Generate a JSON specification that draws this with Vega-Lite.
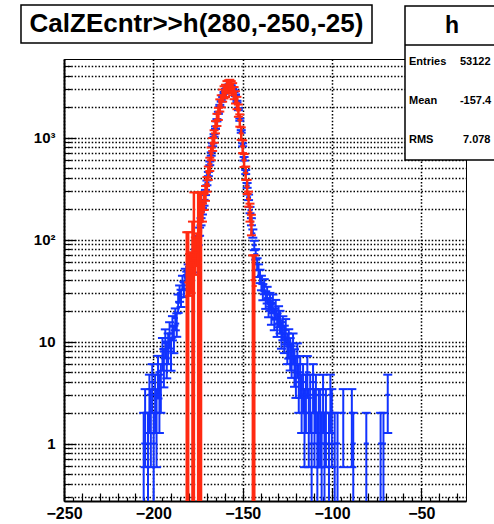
{
  "$schema": "https://vega.github.io/schema/vega-lite/v6.json",
  "width": 402,
  "height": 442,
  "autosize": {"type": "none"},
  "padding": {"left": 64, "top": 59, "right": 28, "bottom": 23},
  "background": "white",
  "config": {
    "view": {"stroke": "#000", "strokeWidth": 1},
    "axis": {"labelFont": "Liberation Sans", "labelFontWeight": "bold", "labelColor": "#000", "tickColor": "#000", "domainColor": "#000", "title": null}
  },
  "datasets": {
    "blue": [
      {"x": -205.4, "v": 1, "lo": 0.01, "hi": 2},
      {"x": -204.6, "v": 2, "lo": 0.586, "hi": 3.414},
      {"x": -203.0, "v": 1, "lo": 0.01, "hi": 2},
      {"x": -202.2, "v": 3, "lo": 1.268, "hi": 4.732},
      {"x": -201.4, "v": 2, "lo": 0.586, "hi": 3.414},
      {"x": -200.6, "v": 4, "lo": 2, "hi": 6},
      {"x": -199.8, "v": 1, "lo": 0.01, "hi": 2},
      {"x": -199.0, "v": 3, "lo": 1.268, "hi": 4.732},
      {"x": -198.2, "v": 2, "lo": 0.586, "hi": 3.414},
      {"x": -197.4, "v": 5, "lo": 2.764, "hi": 7.236},
      {"x": -196.6, "v": 3, "lo": 1.268, "hi": 4.732},
      {"x": -195.8, "v": 4, "lo": 2, "hi": 6},
      {"x": -194.9, "v": 8, "lo": 5.172, "hi": 10.828},
      {"x": -194.1, "v": 6, "lo": 3.551, "hi": 8.449},
      {"x": -193.3, "v": 10, "lo": 6.838, "hi": 13.162},
      {"x": -192.5, "v": 7, "lo": 4.354, "hi": 9.646},
      {"x": -191.7, "v": 9, "lo": 6, "hi": 12},
      {"x": -190.9, "v": 12, "lo": 8.536, "hi": 15.464},
      {"x": -190.1, "v": 8, "lo": 5.172, "hi": 10.828},
      {"x": -189.3, "v": 14, "lo": 10.258, "hi": 17.742},
      {"x": -188.5, "v": 11, "lo": 7.683, "hi": 14.317},
      {"x": -187.7, "v": 17, "lo": 12.877, "hi": 21.123},
      {"x": -186.9, "v": 15, "lo": 11.127, "hi": 18.873},
      {"x": -186.1, "v": 24, "lo": 19.101, "hi": 28.899},
      {"x": -185.3, "v": 30, "lo": 24.523, "hi": 35.477},
      {"x": -184.5, "v": 27, "lo": 21.804, "hi": 32.196},
      {"x": -183.7, "v": 38, "lo": 31.836, "hi": 44.164},
      {"x": -182.9, "v": 33, "lo": 27.255, "hi": 38.745},
      {"x": -182.1, "v": 45, "lo": 38.292, "hi": 51.708},
      {"x": -181.3, "v": 42, "lo": 35.519, "hi": 48.481},
      {"x": -180.5, "v": 50, "lo": 42.929, "hi": 57.071},
      {"x": -179.7, "v": 47, "lo": 40.144, "hi": 53.856},
      {"x": -178.9, "v": 58, "lo": 50.384, "hi": 65.616},
      {"x": -178.1, "v": 55, "lo": 47.584, "hi": 62.416},
      {"x": -177.3, "v": 66, "lo": 57.876, "hi": 74.124},
      {"x": -176.5, "v": 72, "lo": 63.515, "hi": 80.485},
      {"x": -175.7, "v": 80, "lo": 71.056, "hi": 88.944},
      {"x": -174.9, "v": 98, "lo": 88.1, "hi": 107.9},
      {"x": -174.1, "v": 120, "lo": 109.0, "hi": 131.0},
      {"x": -173.3, "v": 150, "lo": 137.8, "hi": 162.2},
      {"x": -172.5, "v": 190, "lo": 176.2, "hi": 203.8},
      {"x": -171.6, "v": 230, "lo": 214.8, "hi": 245.2},
      {"x": -170.8, "v": 290, "lo": 273.0, "hi": 307.0},
      {"x": -170.0, "v": 360, "lo": 341.0, "hi": 379.0},
      {"x": -169.2, "v": 440, "lo": 419.0, "hi": 461.0},
      {"x": -168.4, "v": 560, "lo": 536.3, "hi": 583.7},
      {"x": -167.6, "v": 690, "lo": 663.7, "hi": 716.3},
      {"x": -166.8, "v": 850, "lo": 820.8, "hi": 879.2},
      {"x": -166.0, "v": 1050, "lo": 1017.6, "hi": 1082.4},
      {"x": -165.2, "v": 1250, "lo": 1214.6, "hi": 1285.4},
      {"x": -164.4, "v": 1480, "lo": 1441.5, "hi": 1518.5},
      {"x": -163.6, "v": 1750, "lo": 1708.2, "hi": 1791.8},
      {"x": -162.8, "v": 2050, "lo": 2004.7, "hi": 2095.3},
      {"x": -162.0, "v": 2300, "lo": 2252.0, "hi": 2348.0},
      {"x": -161.2, "v": 2550, "lo": 2499.5, "hi": 2600.5},
      {"x": -160.4, "v": 2750, "lo": 2697.6, "hi": 2802.4},
      {"x": -159.6, "v": 2950, "lo": 2895.7, "hi": 3004.3},
      {"x": -158.8, "v": 3100, "lo": 3044.3, "hi": 3155.7},
      {"x": -158.0, "v": 3250, "lo": 3193.0, "hi": 3307.0},
      {"x": -157.2, "v": 3300, "lo": 3242.6, "hi": 3357.4},
      {"x": -156.4, "v": 3200, "lo": 3143.4, "hi": 3256.6},
      {"x": -155.6, "v": 3050, "lo": 2994.8, "hi": 3105.2},
      {"x": -154.8, "v": 2850, "lo": 2796.6, "hi": 2903.4},
      {"x": -154.0, "v": 2600, "lo": 2549.0, "hi": 2651.0},
      {"x": -153.2, "v": 2250, "lo": 2202.6, "hi": 2297.4},
      {"x": -152.4, "v": 1900, "lo": 1856.4, "hi": 1943.6},
      {"x": -151.6, "v": 1500, "lo": 1461.3, "hi": 1538.7},
      {"x": -150.8, "v": 1150, "lo": 1116.1, "hi": 1183.9},
      {"x": -150.0, "v": 850, "lo": 820.8, "hi": 879.2},
      {"x": -149.2, "v": 620, "lo": 595.1, "hi": 644.9},
      {"x": -148.3, "v": 460, "lo": 438.6, "hi": 481.4},
      {"x": -147.5, "v": 340, "lo": 321.6, "hi": 358.4},
      {"x": -146.7, "v": 260, "lo": 243.9, "hi": 276.1},
      {"x": -145.9, "v": 195, "lo": 181.0, "hi": 209.0},
      {"x": -145.1, "v": 150, "lo": 137.8, "hi": 162.2},
      {"x": -144.3, "v": 115, "lo": 104.3, "hi": 125.7},
      {"x": -143.5, "v": 88, "lo": 78.6, "hi": 97.4},
      {"x": -142.7, "v": 72, "lo": 63.5, "hi": 80.5},
      {"x": -141.9, "v": 58, "lo": 50.4, "hi": 65.6},
      {"x": -141.1, "v": 50, "lo": 42.9, "hi": 57.1},
      {"x": -140.3, "v": 44, "lo": 37.4, "hi": 50.6},
      {"x": -139.5, "v": 38, "lo": 31.8, "hi": 44.2},
      {"x": -138.7, "v": 31, "lo": 25.4, "hi": 36.6},
      {"x": -137.9, "v": 35, "lo": 29.1, "hi": 40.9},
      {"x": -137.1, "v": 26, "lo": 20.9, "hi": 31.1},
      {"x": -136.3, "v": 29, "lo": 23.6, "hi": 34.4},
      {"x": -135.5, "v": 22, "lo": 17.3, "hi": 26.7},
      {"x": -134.7, "v": 25, "lo": 20, "hi": 30},
      {"x": -133.9, "v": 19, "lo": 14.6, "hi": 23.4},
      {"x": -133.1, "v": 24, "lo": 19.1, "hi": 28.9},
      {"x": -132.3, "v": 17, "lo": 12.9, "hi": 21.1},
      {"x": -131.5, "v": 21, "lo": 16.4, "hi": 25.6},
      {"x": -130.7, "v": 15, "lo": 11.1, "hi": 18.9},
      {"x": -129.9, "v": 18, "lo": 13.8, "hi": 22.2},
      {"x": -129.1, "v": 16, "lo": 12, "hi": 20},
      {"x": -128.3, "v": 12, "lo": 8.5, "hi": 15.5},
      {"x": -127.5, "v": 14, "lo": 10.3, "hi": 17.7},
      {"x": -126.7, "v": 11, "lo": 7.7, "hi": 14.3},
      {"x": -125.9, "v": 13, "lo": 9.4, "hi": 16.6},
      {"x": -125.0, "v": 9, "lo": 6, "hi": 12},
      {"x": -124.2, "v": 10, "lo": 6.8, "hi": 13.2},
      {"x": -123.4, "v": 8, "lo": 5.2, "hi": 10.8},
      {"x": -122.6, "v": 7, "lo": 4.4, "hi": 9.6},
      {"x": -121.8, "v": 9, "lo": 6, "hi": 12},
      {"x": -121.0, "v": 6, "lo": 3.6, "hi": 8.4},
      {"x": -120.2, "v": 5, "lo": 2.8, "hi": 7.2},
      {"x": -119.4, "v": 7, "lo": 4.4, "hi": 9.6},
      {"x": -118.6, "v": 4, "lo": 2, "hi": 6},
      {"x": -117.8, "v": 5, "lo": 2.8, "hi": 7.2},
      {"x": -117.0, "v": 3, "lo": 1.268, "hi": 4.732},
      {"x": -116.2, "v": 4, "lo": 2, "hi": 6},
      {"x": -115.4, "v": 2, "lo": 0.586, "hi": 3.414},
      {"x": -114.6, "v": 3, "lo": 1.268, "hi": 4.732},
      {"x": -113.8, "v": 5, "lo": 2.8, "hi": 7.2},
      {"x": -113.0, "v": 2, "lo": 0.586, "hi": 3.414},
      {"x": -112.2, "v": 3, "lo": 1.268, "hi": 4.732},
      {"x": -111.4, "v": 1, "lo": 0.01, "hi": 2},
      {"x": -110.6, "v": 4, "lo": 2, "hi": 6},
      {"x": -109.8, "v": 2, "lo": 0.586, "hi": 3.414},
      {"x": -109.0, "v": 3, "lo": 1.268, "hi": 4.732},
      {"x": -108.2, "v": 1, "lo": 0.01, "hi": 2},
      {"x": -107.4, "v": 2, "lo": 0.586, "hi": 3.414},
      {"x": -106.6, "v": 2, "lo": 0.586, "hi": 3.414},
      {"x": -105.8, "v": 1, "lo": 0.01, "hi": 2},
      {"x": -105.0, "v": 3, "lo": 1.268, "hi": 4.732},
      {"x": -104.2, "v": 1, "lo": 0.01, "hi": 2},
      {"x": -103.4, "v": 2, "lo": 0.586, "hi": 3.414},
      {"x": -101.7, "v": 1, "lo": 0.01, "hi": 2},
      {"x": -100.9, "v": 3, "lo": 1.268, "hi": 4.732},
      {"x": -100.1, "v": 2, "lo": 0.586, "hi": 3.414},
      {"x": -98.5, "v": 1, "lo": 0.01, "hi": 2},
      {"x": -96.9, "v": 1, "lo": 0.01, "hi": 2},
      {"x": -93.7, "v": 2, "lo": 0.586, "hi": 3.414},
      {"x": -88.9, "v": 2, "lo": 0.586, "hi": 3.414},
      {"x": -88.1, "v": 1, "lo": 0.01, "hi": 2},
      {"x": -80.8, "v": 1, "lo": 0.01, "hi": 2},
      {"x": -72.8, "v": 1, "lo": 0.01, "hi": 2},
      {"x": -71.2, "v": 1, "lo": 0.01, "hi": 2},
      {"x": -68.8, "v": 3, "lo": 1.268, "hi": 4.732}
    ],
    "red": [
      {"x": -181.3, "v": 38, "lo": 0.01, "hi": 118},
      {"x": -180.5, "v": 45, "lo": 0.01, "hi": 118},
      {"x": -179.7, "v": 50, "lo": 28, "hi": 72},
      {"x": -178.9, "v": 52, "lo": 30, "hi": 75},
      {"x": -178.1, "v": 60, "lo": 0.01, "hi": 150},
      {"x": -177.3, "v": 65, "lo": 0.01, "hi": 290},
      {"x": -176.5, "v": 75, "lo": 45, "hi": 105},
      {"x": -175.7, "v": 85, "lo": 55, "hi": 115},
      {"x": -174.9, "v": 100, "lo": 0.01, "hi": 290},
      {"x": -174.1, "v": 125, "lo": 0.01, "hi": 290},
      {"x": -173.3, "v": 150, "lo": 0.01, "hi": 290},
      {"x": -172.5, "v": 185, "lo": 150, "hi": 225},
      {"x": -171.6, "v": 235, "lo": 195, "hi": 280},
      {"x": -170.8, "v": 285, "lo": 240, "hi": 335},
      {"x": -170.0, "v": 350, "lo": 295, "hi": 410},
      {"x": -169.2, "v": 450, "lo": 385, "hi": 520},
      {"x": -168.4, "v": 550, "lo": 470, "hi": 635},
      {"x": -167.6, "v": 700, "lo": 600, "hi": 800},
      {"x": -166.8, "v": 860, "lo": 740, "hi": 990},
      {"x": -166.0, "v": 1030, "lo": 890, "hi": 1180},
      {"x": -165.2, "v": 1270, "lo": 1100, "hi": 1450},
      {"x": -164.4, "v": 1500, "lo": 1300, "hi": 1710},
      {"x": -163.6, "v": 1720, "lo": 1490, "hi": 1960},
      {"x": -162.8, "v": 2080, "lo": 1800, "hi": 2370},
      {"x": -162.0, "v": 2280, "lo": 1980, "hi": 2600},
      {"x": -161.2, "v": 2600, "lo": 2250, "hi": 2960},
      {"x": -160.4, "v": 2800, "lo": 2420, "hi": 3190},
      {"x": -159.6, "v": 2900, "lo": 2500, "hi": 3300},
      {"x": -158.8, "v": 3150, "lo": 2730, "hi": 3580},
      {"x": -158.0, "v": 3200, "lo": 2770, "hi": 3640},
      {"x": -157.2, "v": 3250, "lo": 2820, "hi": 3690},
      {"x": -156.4, "v": 3150, "lo": 2720, "hi": 3580},
      {"x": -155.6, "v": 3000, "lo": 2600, "hi": 3420},
      {"x": -154.8, "v": 2750, "lo": 2380, "hi": 3130},
      {"x": -154.0, "v": 2500, "lo": 2160, "hi": 2850},
      {"x": -153.2, "v": 2200, "lo": 1900, "hi": 2510},
      {"x": -152.4, "v": 1850, "lo": 1600, "hi": 2110},
      {"x": -151.6, "v": 1480, "lo": 1280, "hi": 1690},
      {"x": -150.8, "v": 1100, "lo": 950, "hi": 1260},
      {"x": -150.0, "v": 820, "lo": 705, "hi": 940},
      {"x": -149.2, "v": 600, "lo": 515, "hi": 690},
      {"x": -148.3, "v": 450, "lo": 385, "hi": 520},
      {"x": -147.5, "v": 330, "lo": 280, "hi": 385},
      {"x": -146.7, "v": 250, "lo": 210, "hi": 295},
      {"x": -145.9, "v": 185, "lo": 150, "hi": 225},
      {"x": -145.1, "v": 140, "lo": 110, "hi": 175},
      {"x": -144.3, "v": 40, "lo": 0.01, "hi": 70},
      {"x": -143.5, "v": 35, "lo": 0.01, "hi": 70}
    ]
  },
  "resolve": {"axis": {"x": "independent", "y": "independent"}},
  "layer": [
    {
      "data": {"name": "blue"},
      "mark": {"type": "rule", "color": "#1133ff", "strokeWidth": 2, "clip": true},
      "encoding": {
        "x": {"field": "x", "type": "quantitative", "scale": {"domain": [-250, -25], "nice": false, "zero": false},
          "axis": {"orient": "bottom", "values": [-250, -200, -150, -100, -50], "format": "d", "labelFontSize": 16, "labelPadding": 17, "labelFlush": false, "labelOverlap": false, "tickSize": -13, "tickWidth": 1.2, "domain": true, "domainWidth": 2, "grid": true, "gridColor": "#000", "gridDash": [1.5, 1.9], "gridWidth": 1.5, "gridOpacity": 1}},
        "y": {"field": "lo", "type": "quantitative", "scale": {"type": "log", "domain": [0.273, 5900], "nice": false},
          "axis": {"orient": "left", "values": [1, 10, 100, 1000], "labelExpr": "datum.value == 1 ? '1' : datum.value == 10 ? '10' : datum.value == 100 ? '10²' : '10³'", "labelFontSize": 15, "labelPadding": 21, "tickSize": -12, "tickWidth": 1.2, "domain": true, "domainWidth": 2, "grid": false}},
        "y2": {"field": "hi"}
      }
    },
    {
      "data": {"name": "blue"},
      "mark": {"type": "tick", "orient": "horizontal", "color": "#1133ff", "size": 9, "thickness": 2, "opacity": 1, "clip": true},
      "encoding": {
        "x": {"field": "x", "type": "quantitative",
          "axis": {"orient": "bottom", "values": [-240, -230, -220, -210, -190, -180, -170, -160, -140, -130, -120, -110, -90, -80, -70, -60, -40, -30], "labels": false, "tickSize": -8, "tickWidth": 1.2, "domain": false, "grid": false}},
        "y": {"field": "lo", "type": "quantitative",
          "axis": {"orient": "left", "values": [0.3, 0.4, 0.5, 0.6, 0.7, 0.8, 0.9, 1, 2, 3, 4, 5, 6, 7, 8, 9, 10, 20, 30, 40, 50, 60, 70, 80, 90, 100, 200, 300, 400, 500, 600, 700, 800, 900, 1000, 2000, 3000, 4000, 5000], "labels": false, "tickSize": -7, "tickWidth": 1.2, "domain": false, "grid": true, "gridColor": "#000", "gridDash": [1.5, 1.9], "gridWidth": 1.5, "gridOpacity": 1}}
      }
    },
    {
      "data": {"name": "blue"},
      "mark": {"type": "tick", "orient": "horizontal", "color": "#1133ff", "size": 9, "thickness": 2, "opacity": 1, "clip": true},
      "encoding": {
        "x": {"field": "x", "type": "quantitative",
          "axis": {"orient": "bottom", "values": [-245, -235, -225, -215, -205, -195, -185, -175, -165, -155, -145, -135, -125, -115, -105, -95, -85, -75, -65, -55, -45, -35], "labels": false, "tickSize": -4, "tickWidth": 1.2, "domain": false, "grid": false}},
        "y": {"field": "hi", "type": "quantitative", "axis": null}
      }
    },
    {
      "data": {"name": "blue"},
      "mark": {"type": "tick", "orient": "horizontal", "color": "#1133ff", "size": 5, "thickness": 2, "opacity": 1, "clip": true},
      "encoding": {
        "x": {"field": "x", "type": "quantitative", "axis": null},
        "y": {"field": "v", "type": "quantitative", "axis": null}
      }
    },
    {
      "data": {"name": "red"},
      "mark": {"type": "rule", "color": "#ff2a12", "strokeWidth": 2.5, "clip": true},
      "encoding": {
        "x": {"field": "x", "type": "quantitative", "axis": null},
        "y": {"field": "lo", "type": "quantitative", "axis": null},
        "y2": {"field": "hi"}
      }
    },
    {
      "data": {"name": "red"},
      "mark": {"type": "tick", "orient": "horizontal", "color": "#ff2a12", "size": 9, "thickness": 2, "opacity": 1, "clip": true},
      "encoding": {
        "x": {"field": "x", "type": "quantitative", "axis": null},
        "y": {"field": "lo", "type": "quantitative", "axis": null}
      }
    },
    {
      "data": {"name": "red"},
      "mark": {"type": "tick", "orient": "horizontal", "color": "#ff2a12", "size": 9, "thickness": 2, "opacity": 1, "clip": true},
      "encoding": {
        "x": {"field": "x", "type": "quantitative", "axis": null},
        "y": {"field": "hi", "type": "quantitative", "axis": null}
      }
    },
    {
      "data": {"name": "red"},
      "mark": {"type": "tick", "orient": "horizontal", "color": "#ff2a12", "size": 5, "thickness": 2, "opacity": 1, "clip": true},
      "encoding": {
        "x": {"field": "x", "type": "quantitative", "axis": null},
        "y": {"field": "v", "type": "quantitative", "axis": null}
      }
    },
    {
      "data": {"values": [{}]},
      "mark": {"type": "rect", "fill": "white", "stroke": "#000", "strokeWidth": 1.5},
      "encoding": {
        "x": {"datum": -274.07, "type": "quantitative", "axis": null},
        "x2": {"datum": -77.61},
        "y": {"datum": 19970, "type": "quantitative", "axis": null},
        "y2": {"datum": 8470}
      }
    },
    {
      "data": {"values": [{"t": "CalZEcntr>>h(280,-250,-25)"}]},
      "mark": {"type": "text", "font": "Liberation Sans", "fontWeight": "bold", "fontSize": 26, "align": "center", "baseline": "middle", "color": "#000"},
      "encoding": {
        "x": {"datum": -175.84, "type": "quantitative", "axis": null},
        "y": {"datum": 13005, "type": "quantitative", "axis": null},
        "text": {"field": "t"}
      }
    },
    {
      "data": {"values": [{}]},
      "mark": {"type": "rect", "fill": "white", "stroke": "#000", "strokeWidth": 1.5},
      "encoding": {
        "x": {"datum": -59.14, "type": "quantitative", "axis": null},
        "x2": {"datum": 10.8},
        "y": {"datum": 19530, "type": "quantitative", "axis": null},
        "y2": {"datum": 603}
      }
    },
    {
      "data": {"values": [{}]},
      "mark": {"type": "rule", "stroke": "#000", "strokeWidth": 1.5},
      "encoding": {
        "x": {"datum": -59.14, "type": "quantitative", "axis": null},
        "x2": {"datum": 10.8},
        "y": {"datum": 8093, "type": "quantitative", "axis": null}
      }
    },
    {
      "data": {"values": [{"t": "h"}]},
      "mark": {"type": "text", "font": "Liberation Sans", "fontWeight": "bold", "fontSize": 23, "align": "center", "baseline": "middle", "color": "#000"},
      "encoding": {
        "x": {"datum": -32.84, "type": "quantitative", "axis": null},
        "y": {"datum": 12430, "type": "quantitative", "axis": null},
        "text": {"field": "t"}
      }
    },
    {
      "data": {"values": [{"t": "Entries"}]},
      "mark": {"type": "text", "font": "Liberation Sans", "fontWeight": "bold", "fontSize": 11, "align": "left", "baseline": "middle", "color": "#000"},
      "encoding": {
        "x": {"datum": -56.9, "type": "quantitative", "axis": null},
        "y": {"datum": 5515, "type": "quantitative", "axis": null},
        "text": {"field": "t"}
      }
    },
    {
      "data": {"values": [{"t": "Mean"}]},
      "mark": {"type": "text", "font": "Liberation Sans", "fontWeight": "bold", "fontSize": 11, "align": "left", "baseline": "middle", "color": "#000"},
      "encoding": {
        "x": {"datum": -56.9, "type": "quantitative", "axis": null},
        "y": {"datum": 2286, "type": "quantitative", "axis": null},
        "text": {"field": "t"}
      }
    },
    {
      "data": {"values": [{"t": "RMS"}]},
      "mark": {"type": "text", "font": "Liberation Sans", "fontWeight": "bold", "fontSize": 11, "align": "left", "baseline": "middle", "color": "#000"},
      "encoding": {
        "x": {"datum": -56.9, "type": "quantitative", "axis": null},
        "y": {"datum": 947.6, "type": "quantitative", "axis": null},
        "text": {"field": "t"}
      }
    },
    {
      "data": {"values": [{"t": "53122"}]},
      "mark": {"type": "text", "font": "Liberation Sans", "fontWeight": "bold", "fontSize": 11, "align": "left", "baseline": "middle", "color": "#000"},
      "encoding": {
        "x": {"datum": -28.4, "type": "quantitative", "axis": null},
        "y": {"datum": 5515, "type": "quantitative", "axis": null},
        "text": {"field": "t"}
      }
    },
    {
      "data": {"values": [{"t": "-157.4"}]},
      "mark": {"type": "text", "font": "Liberation Sans", "fontWeight": "bold", "fontSize": 11, "align": "left", "baseline": "middle", "color": "#000"},
      "encoding": {
        "x": {"datum": -28.4, "type": "quantitative", "axis": null},
        "y": {"datum": 2286, "type": "quantitative", "axis": null},
        "text": {"field": "t"}
      }
    },
    {
      "data": {"values": [{"t": "7.078"}]},
      "mark": {"type": "text", "font": "Liberation Sans", "fontWeight": "bold", "fontSize": 11, "align": "left", "baseline": "middle", "color": "#000"},
      "encoding": {
        "x": {"datum": -26.7, "type": "quantitative", "axis": null},
        "y": {"datum": 947.6, "type": "quantitative", "axis": null},
        "text": {"field": "t"}
      }
    }
  ]
}
